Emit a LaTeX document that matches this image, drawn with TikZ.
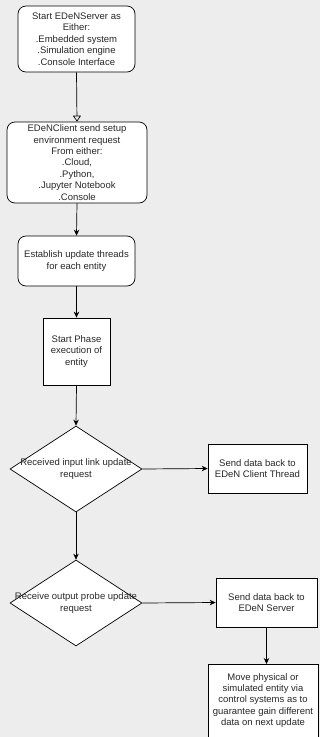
\documentclass[tikz,border=0pt]{standalone}
\usepackage{fontspec}
\setmainfont{Liberation Sans}
\usetikzlibrary{shapes.geometric,arrows.meta}
\definecolor{bg}{RGB}{237,237,237}
\definecolor{txtc}{RGB}{40,40,40}
\begin{document}
\begin{tikzpicture}[x=1pt,y=-1pt,
  every node/.style={font=\fontsize{9.5}{11.4}\selectfont, text=txtc, align=center},
  rbox/.style={draw=black, fill=white, rounded corners=8pt, line width=0.7pt, inner sep=0pt},
  sbox/.style={draw=black, fill=white, line width=0.7pt, inner sep=0pt},
  dia/.style={draw=black, fill=white, diamond, line width=0.7pt, inner sep=0pt},
  txt/.style={inner sep=0pt},
  arr/.style={draw=black, line width=0.7pt, -{Stealth[length=6pt,width=5.5pt]}},
  oarr/.style={draw=black, line width=0.7pt, -{Triangle[open,length=6pt,width=8pt]}}]
\fill[bg] (0,0) rectangle (320,737);
\useasboundingbox (0,0) rectangle (320,737);
\node[rbox, minimum width=117pt, minimum height=66pt] (n1) at (76.5,39) {Start EDeNServer as\\Either:\\.Embedded system\\.Simulation engine\\.Console Interface};
\node[rbox, minimum width=140pt, minimum height=81pt] (n2) at (77,162.5) {EDeNClient send setup\\environment request\\From either:\\.Cloud,\\.Python,\\.Jupyter Notebook\\.Console};
\node[rbox, minimum width=117pt, minimum height=50pt] (n3) at (76.5,261) {Establish update threads\\for each entity};
\node[sbox, minimum width=67pt, minimum height=67pt] (n4) at (76.5,351.5) {Start Phase\\execution of\\entity};
\node[dia, minimum width=132pt, minimum height=86pt] (d1) at (76,469) {};
\node[txt] (d1t) at (d1.center) {Received input link update\\request};
\node[sbox, minimum width=99pt, minimum height=49pt] (b1) at (257.5,468.5) {Send data back to\\EDeN Client Thread};
\node[dia, minimum width=132pt, minimum height=86pt] (d2) at (76,603) {};
\node[txt] (d2t) at (d2.center) {Receive output probe update\\request};
\node[sbox, minimum width=101pt, minimum height=49pt] (b2) at (266.5,602.5) {Send data back to\\EDeN Server};
\node[sbox, minimum width=110pt, minimum height=90pt, anchor=north] (b3) at (263,664) {};
\node[txt, anchor=north] (b3t) at (263,673) {Move physical or\\simulated entity via\\control systems as to\\guarantee gain different\\data on next update};
\draw[oarr] (n1.south) -- (n2.north);
\draw[arr] (n2.south) -- (n3.north);
\draw[arr] (n3.south) -- (n4.north);
\draw[arr] (n4.south) -- (d1.north);
\draw[arr] (d1.east) -- (b1.west);
\draw[arr] (d1.south) -- (d2.north);
\draw[arr] (d2.east) -- (b2.west);
\draw[arr] (b2.south) -- (b2.south |- b3.north);
\end{tikzpicture}
\end{document}
